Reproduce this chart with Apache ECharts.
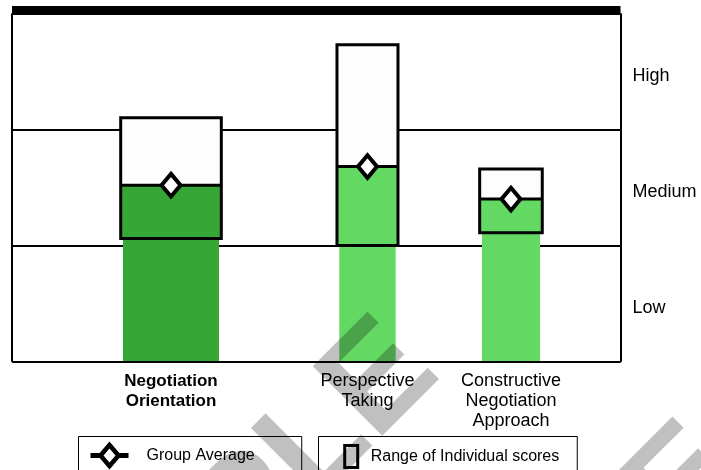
<!DOCTYPE html>
<html>
<head>
<meta charset="utf-8">
<script src="https://cdn.jsdelivr.net/npm/echarts@6/dist/echarts.min.js"></script>
<style>
  html, body { margin: 0; padding: 0; background: #fff; }
  #chart { width: 701px; height: 470px; }
</style>
</head>
<body>
<div id="chart"></div>
<script>
// Scale categories and scores (0-1 Low, 1-2 Medium, 2-3 High)
const categories = ['Negotiation\nOrientation', 'Perspective\nTaking', 'Constructive\nNegotiation\nApproach'];
const groupAverage = [1.52, 1.68, 1.40];
const rangeMin = [1.06, 1.00, 1.11];
const rangeMax = [2.10, 2.73, 1.66];
const levelLabels = ['Low', 'Medium', 'High'];
const watermarkText = 'SAMPLE';

// Layout of each category along the plot width (percent of width)
const slotCenter = [26.13, 58.42, 82.0];
const slotWidth = [15.78, 9.27, 9.53];
const barColor = ['#36a636', '#63d963', '#63d963'];
const labelWeight = ['bold', 'normal', 'normal'];
const labelSize = [17, 18, 18];

const FONT = "'Liberation Sans', Arial, Helvetica, sans-serif";

const rangeData = categories.map((c, i) => [slotCenter[i], groupAverage[i], rangeMin[i], rangeMax[i], slotWidth[i]]);
const averageData = categories.map((c, i) => [slotCenter[i], groupAverage[i]]);

function renderRange(params, api) {
  const i = params.dataIndex;
  const cx = api.value(0);
  const halfBar = api.size([api.value(4), 0])[0] / 2;
  const halfBox = halfBar + 2.3;
  const pBase = api.coord([cx, 0]);
  const pAvg = api.coord([cx, api.value(1)]);
  const pLo = api.coord([cx, api.value(2)]);
  const pHi = api.coord([cx, api.value(3)]);
  const x = pBase[0];
  return {
    type: 'group',
    children: [
      { type: 'rect', shape: { x: x - halfBar, y: pAvg[1], width: 2 * halfBar, height: pBase[1] - pAvg[1] },
        style: { fill: barColor[i] } },
      { type: 'rect', shape: { x: x - halfBox, y: pAvg[1], width: 2 * halfBox, height: pLo[1] - pAvg[1] },
        style: { fill: barColor[i] } },
      { type: 'rect', shape: { x: x - halfBox, y: pHi[1], width: 2 * halfBox, height: pAvg[1] - pHi[1] },
        style: { fill: '#fdfdfd' } },
      { type: 'rect', shape: { x: x - halfBox, y: pHi[1], width: 2 * halfBox, height: pLo[1] - pHi[1] },
        style: { fill: 'none', stroke: '#000', lineWidth: 3 } },
      { type: 'line', shape: { x1: x - halfBox, y1: pAvg[1], x2: x + halfBox, y2: pAvg[1] },
        style: { stroke: '#000', lineWidth: 3 } },
      { type: 'text', x: x, y: pBase[1] + 9.3,
        style: { text: categories[i], textAlign: 'center', textVerticalAlign: 'top',
                 fontFamily: FONT, fontSize: labelSize[i], fontWeight: labelWeight[i],
                 lineHeight: 20, fill: '#000' } }
    ]
  };
}

function renderAverage(params, api) {
  const p = api.coord([api.value(0), api.value(1)]);
  const hw = 9.5, hh = 11.3;
  return {
    type: 'polygon',
    shape: { points: [[p[0], p[1] - hh], [p[0] + hw, p[1]], [p[0], p[1] + hh], [p[0] - hw, p[1]]] },
    style: { fill: '#fff', stroke: '#000', lineWidth: 4, lineJoin: 'miter' }
  };
}

const diamondIcon = 'path://M0,11.5L9.14,11.5L19,0L28.86,11.5L38,11.5L38,16.5L28.86,16.5L19,28L9.14,16.5L0,16.5Z' +
                    'M19,7L13,14L19,21L25,14Z';

// Diagonal watermark; (x, y) is the baseline point where the last letter starts
function watermark(x, y) {
  const size = 143;
  return {
    type: 'group', x: x, y: y, rotation: Math.PI / 4, z: 100, silent: true,
    children: [{
      type: 'text', x: 0.667 * size, y: -0.31 * size, z: 100, silent: true,
      style: { text: watermarkText, fontFamily: FONT, fontSize: size, fontWeight: 'bold',
               fill: 'rgba(0,0,0,0.247)', textAlign: 'right', align: 'right',
               textVerticalAlign: 'middle', verticalAlign: 'middle' }
    }]
  };
}

const noZero = { show: true, onZero: false };

const chart = echarts.init(document.getElementById('chart'), null, { renderer: 'canvas' });
chart.setOption({
  backgroundColor: '#fff',
  animation: false,
  textStyle: { fontFamily: FONT },
  grid: { left: 12, right: 80.5, top: 13.3, bottom: 108.3, containLabel: false },
  xAxis: [
    { type: 'value', min: 0, max: 100, position: 'bottom', z: 10,
      axisLine: { ...noZero, lineStyle: { color: '#000', width: 2, cap: 'butt' } },
      axisTick: { show: false }, axisLabel: { show: false }, splitLine: { show: false } },
    { type: 'value', min: 0, max: 100, position: 'top', offset: 3.8, z: 10,
      axisLine: { ...noZero, lineStyle: { color: '#000', width: 7, cap: 'butt' } },
      axisTick: { show: false }, axisLabel: { show: false }, splitLine: { show: false } }
  ],
  yAxis: [
    { type: 'value', min: 0, max: 3, interval: 1, position: 'left', z: 0,
      axisLine: { ...noZero, lineStyle: { color: '#000', width: 2, cap: 'butt' } },
      axisTick: { show: false }, axisLabel: { show: false },
      splitLine: { show: true, lineStyle: { color: '#000', width: 2 } } },
    { type: 'value', min: 0, max: 3, interval: 0.5, position: 'right', z: 0,
      axisLine: { ...noZero, lineStyle: { color: '#000', width: 2, cap: 'butt' } },
      axisTick: { show: false }, splitLine: { show: false },
      axisLabel: {
        margin: 12, color: '#000', fontSize: 18, fontFamily: FONT,
        verticalAlign: 'top', lineHeight: 9.4,
        formatter: v => {
          const k = v - 0.5;
          return Number.isInteger(k) && levelLabels[k] ? levelLabels[k] : '';
        }
      } }
  ],
  legend: [
    { data: [{ name: 'Group Average', icon: diamondIcon, itemStyle: { color: '#000', borderWidth: 0 } }],
      left: 78.5, top: 436.5, orient: 'horizontal', selectedMode: false,
      itemWidth: 38, itemHeight: 28, padding: [5, 47, 30, 12],
      borderColor: '#000', borderWidth: 1, backgroundColor: '#fff',
      textStyle: { color: '#000', fontSize: 16, fontFamily: FONT, padding: [0, 0, 0, 13] } },
    { data: [{ name: 'Range of Individual scores', icon: 'rect',
               itemStyle: { color: '#fff', borderColor: '#000', borderWidth: 3 } }],
      left: 318.5, top: 436.5, orient: 'horizontal', selectedMode: false,
      itemWidth: 13, itemHeight: 22, padding: [7.5, 18, 30, 24.7],
      borderColor: '#000', borderWidth: 1, backgroundColor: '#fff',
      textStyle: { color: '#000', fontSize: 16, fontFamily: FONT, padding: [0, 0, 0, 8] } }
  ],
  series: [
    { name: 'Range of Individual scores', type: 'custom', renderItem: renderRange, clip: false,
      itemStyle: { color: '#fff', borderColor: '#000', borderWidth: 3 },
      encode: { x: 0, y: 1 }, data: rangeData, z: 2 },
    { name: 'Group Average', type: 'custom', renderItem: renderAverage, clip: false,
      itemStyle: { color: '#000' },
      encode: { x: 0, y: 1 }, data: averageData, z: 3 }
  ],
  graphic: [watermark(379, 446), watermark(684, 551)]
});
</script>
</body>
</html>
